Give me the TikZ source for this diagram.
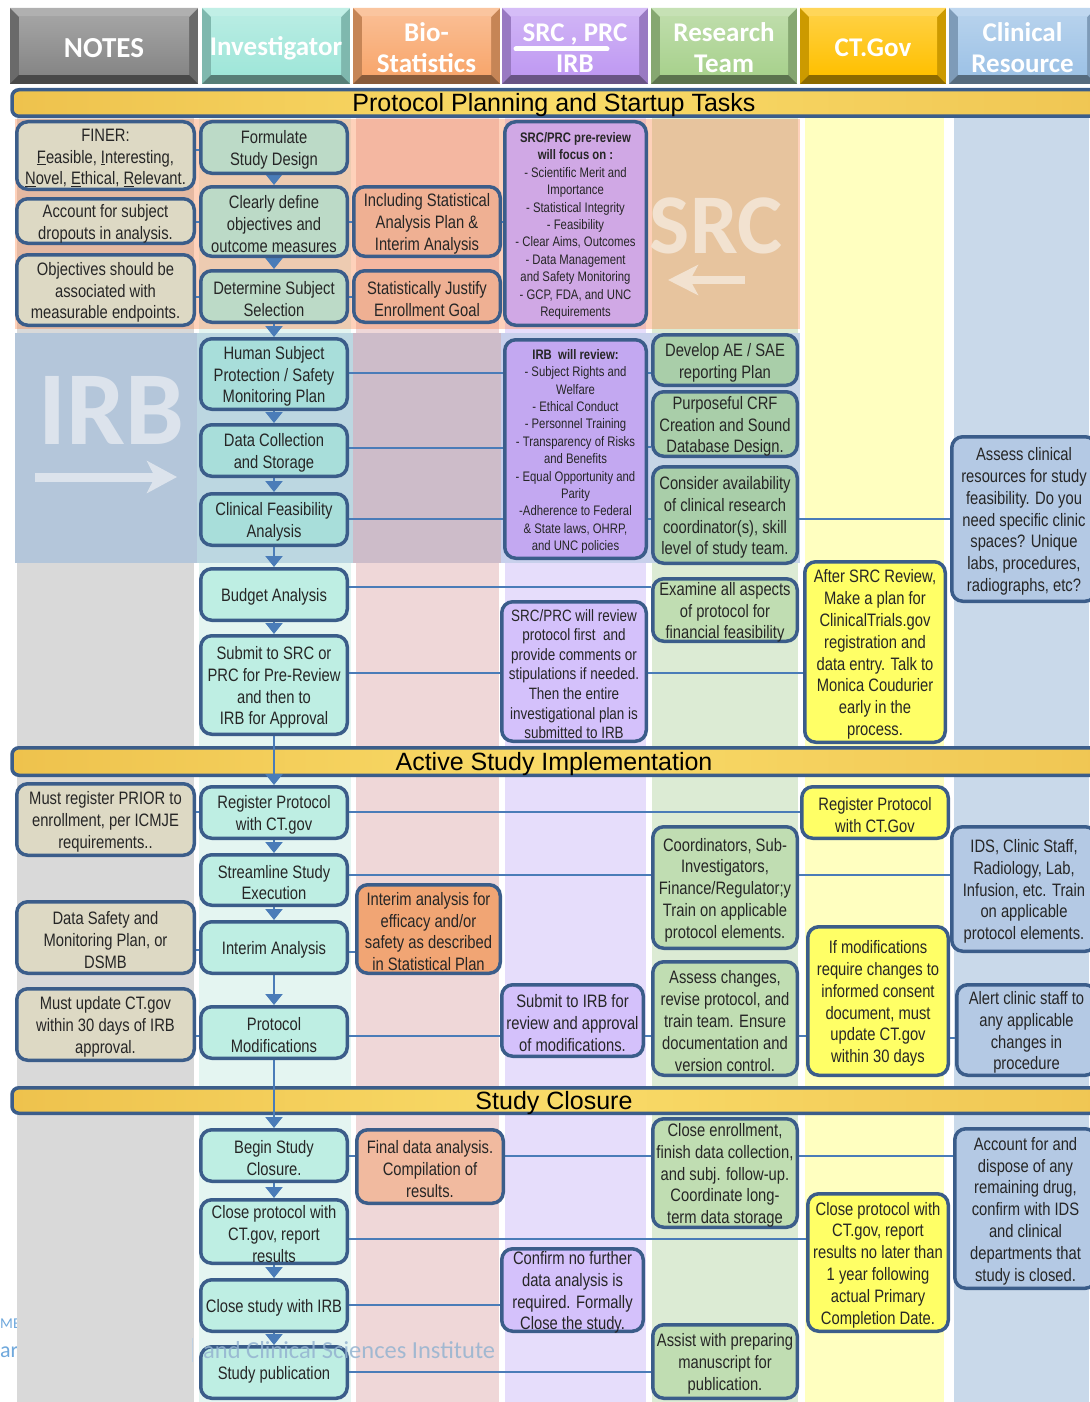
\documentclass[tikz,border=0pt]{standalone}
\usepackage{fontspec}
\setmainfont{Liberation Sans}
\newfontfamily\nar{Liberation Sans}[FakeStretch=0.82]
\newfontfamily\hdr{Carlito}
\usetikzlibrary{arrows.meta}
\pgfdeclarelayer{back}
\pgfdeclarelayer{conn}
\pgfsetlayers{back,conn,main}
\definecolor{bd}{HTML}{3B5D8A}
\definecolor{cn}{HTML}{4A7CB8}
\definecolor{tx}{HTML}{262626}
\definecolor{cgray}{HTML}{D9D9D9}
\definecolor{cinv}{HTML}{E4F5F1}
\definecolor{cbio}{HTML}{EFD7D8}
\definecolor{csrc}{HTML}{E6DDFB}
\definecolor{cres}{HTML}{DCEBD4}
\definecolor{cct}{HTML}{FFFFC0}
\definecolor{ccl}{HTML}{C9D9EA}
\definecolor{srcov}{HTML}{FE7E3C}
\definecolor{irbA}{HTML}{B4C6DA}
\definecolor{irbB}{HTML}{BCD7E1}
\definecolor{irbC}{HTML}{CDBCC9}
\definecolor{irbD}{HTML}{C8D0EC}
\definecolor{irbE}{HTML}{C6D5E6}
\definecolor{wmirb}{HTML}{DCE3EC}
\definecolor{wmsrc}{HTML}{F2E2D0}
\definecolor{barL}{HTML}{EEC24D}
\definecolor{barM}{HTML}{F9DB68}
\definecolor{barR}{HTML}{F0C653}
\definecolor{logo}{HTML}{94B3D0}
\definecolor{logob}{HTML}{6FA8DC}
\definecolor{nb}{HTML}{DDD9C4}
\definecolor{ia}{HTML}{BCDAC7}
\definecolor{ib}{HTML}{A8DEDA}
\definecolor{ic}{HTML}{BEEEE3}
\definecolor{ba}{HTML}{EFB093}
\definecolor{bb}{HTML}{F1A574}
\definecolor{bc}{HTML}{F1BA9F}
\definecolor{sa}{HTML}{D0A8E5}
\definecolor{sb}{HTML}{C3A8F1}
\definecolor{sc}{HTML}{D4C1FB}
\definecolor{ra}{HTML}{A9CEA9}
\definecolor{rb}{HTML}{C0DDB2}
\definecolor{cy}{HTML}{FFFF66}
\definecolor{ka}{HTML}{B4C9E4}
\definecolor{hnotes}{HTML}{858585}
\definecolor{hinv}{HTML}{9FE6D9}
\definecolor{hbio}{HTML}{F8A66C}
\definecolor{hsrc}{HTML}{BF99F2}
\definecolor{hres}{HTML}{A8D18D}
\definecolor{hct}{HTML}{FFC000}
\definecolor{hcl}{HTML}{9DC2E6}
\tikzset{
 box/.style={draw=bd,line width=3.5pt,rounded corners=11pt,inner sep=0pt},
 boxtext/.style={align=center,inner sep=0pt,text=tx,font=\nar\fontsize{18}{21.8}\selectfont},
 conn/.style={draw=cn,line width=2.2pt},
 arr/.style={draw=cn,line width=2.2pt,-{Triangle[width=17pt,length=11pt]}},
 hdt/.style={text=white,align=center,inner sep=0pt,font=\hdr\bfseries\fontsize{27}{31}\selectfont},
 secbar/.style={draw=bd,line width=3.5pt,rounded corners=7pt,left color=barL,right color=barR,middle color=barM,inner sep=0pt},
 bartext/.style={inner sep=0pt,font=\fontsize{25}{28}\selectfont,text=black},
 fsmall/.style={font=\nar\fontsize{13.8}{17.4}\selectfont},
 fmid/.style={font=\nar\fontsize{16.4}{19.6}\selectfont},
}
\newcommand\bxn[8]{%
 \pgfmathsetmacro\bxw{#4-#2-3.5}\pgfmathsetmacro\bxh{#5-#3-3.5}%
 \pgfmathsetmacro\bxcx{(#2+#4)/2}\pgfmathsetmacro\bxcy{(#3+#5)/2}%
 \pgfmathsetmacro\bxty{(#3+#5)/2+2.5}%
 \node[box,fill=#6,minimum width=\bxw pt,minimum height=\bxh pt] (#1) at (\bxcx,\bxcy) {};
 \node[boxtext,#7] (#1t) at (\bxcx,\bxty) {#8};}
\newcommand\hdtile[6]{%
 \fill[#4!80!black] (#2,8) rectangle (#3,84);
 \fill[#4!65!white] (#2,8) -- (#3,8) -- ({#3-9},17) -- ({#2+9},17) -- cycle;
 \fill[#4!55!black] (#2,84) -- (#3,84) -- ({#3-9},75) -- ({#2+9},75) -- cycle;
 \fill[top color=#4!75!white,bottom color=#4] ({#2+9},17) rectangle ({#3-9},75);
 \node[hdt,#5] (#1) at ({(#2+#3)/2},48) {#6};}
\begin{document}
\begin{tikzpicture}[x=1pt,y=-1pt]
\useasboundingbox (0,0) rectangle (1089,1402);
\begin{pgfonlayer}{back}
\fill[white] (0,0) rectangle (1089,1402);
\node[anchor=base west,inner sep=0,text=logob,font=\hdr\fontsize{15}{15}\selectfont] (lgA) at (0,1328) {ME};
\node[anchor=base west,inner sep=0,text=logob,font=\hdr\fontsize{22}{22}\selectfont] (lgB) at (0,1357) {arc};
\fill[cgray] (17,118) rectangle (194,1402);
\fill[cinv] (199,118) rectangle (351,1402);
\fill[cbio] (356,118) rectangle (499,1402);
\fill[csrc] (505,118) rectangle (646,1402);
\fill[cres] (652,118) rectangle (798,1402);
\fill[cct] (805,118) rectangle (944,1402);
\fill[ccl] (954,118) rectangle (1089,1402);
\fill[srcov,opacity=.35] (15,119) rectangle (800,329);
\fill[irbA] (15,333) rectangle (197,563);
\fill[irbB] (197,333) rectangle (353,563);
\fill[irbC] (353,333) rectangle (501,563);
\fill[irbD] (501,333) rectangle (650,563);
\fill[irbE] (650,333) rectangle (800,563);
\node[inner sep=0,text=wmirb,font=\hdr\bfseries\fontsize{105}{105}\selectfont] (wmI) at (111,410) {IRB};
\draw[wmirb,line width=9pt,-{Stealth[length=30pt,width=32pt,inset=8pt]}] (35,477) -- (177,477);
\node[inner sep=0,text=wmsrc,font=\hdr\bfseries\fontsize{85}{85}\selectfont] (wmS) at (716,226) {SRC};
\draw[wmsrc,line width=8pt,-{Stealth[length=30pt,width=30pt,inset=8pt]}] (745,280) -- (668,280);
\node[secbar,minimum width=1088pt,minimum height=26.5pt] (bar1) at (556,103) {};
\node[bartext] (bar1t) at (554,105.5) {Protocol Planning and Startup Tasks};
\node[secbar,minimum width=1088pt,minimum height=27.5pt] (bar2) at (556,761.5) {};
\node[bartext] (bar2t) at (554,764.5) {Active Study Implementation};
\node[secbar,minimum width=1088pt,minimum height=25.5pt] (bar3) at (556,1100.5) {};
\node[bartext] (bar3t) at (554,1103.5) {Study Closure};
\end{pgfonlayer}
% header
\hdtile{h1}{10}{198}{hnotes}{font=\hdr\bfseries\fontsize{29}{31}\selectfont}{NOTES}
\hdtile{h2}{202}{350}{hinv}{}{Investigator}
\hdtile{h3}{353}{500}{hbio}{}{Bio-\\Statistics}
\hdtile{h4}{502}{648}{hsrc}{}{SRC , PRC\\IRB}
\draw[white,line width=5pt,line cap=round] (516,49) -- (607,49);
\hdtile{h5}{651}{797}{hres}{}{Research\\Team}
\hdtile{h6}{800}{946}{hct}{}{CT.Gov}
\hdtile{h7}{949}{1096}{hcl}{}{Clinical\\Resource}
% notes
\bxn{n1}{15}{120}{196}{191}{nb}{}{FINER:\\\underline{F}easible, \underline{I}nteresting,\\\underline{N}ovel, \underline{E}thical, \underline{R}elevant.}
\bxn{n2}{15}{197}{196}{245}{nb}{}{Account for subject\\dropouts in analysis.}
\bxn{n3}{15}{253}{196}{327}{nb}{}{Objectives should be\\associated with\\measurable endpoints.}
\bxn{n4}{15}{782}{196}{857}{nb}{}{Must register PRIOR to\\enrollment, per ICMJE\\requirements..}
\bxn{n5}{15}{900}{196}{975}{nb}{}{Data Safety and\\Monitoring Plan, or\\DSMB}
\bxn{n6}{15}{987}{196}{1062}{nb}{}{Must update CT.gov\\within 30 days of IRB\\approval.}
% investigator
\bxn{i1}{199}{120}{349}{175}{ia}{}{Formulate\\Study Design}
\bxn{i2}{199}{185}{349}{258}{ia}{}{Clearly define\\objectives and\\outcome measures}
\bxn{i3}{199}{269}{349}{324}{ia}{}{Determine Subject\\Selection}
\bxn{i4}{199}{337}{349}{411}{ib}{}{Human Subject\\Protection / Safety\\Monitoring Plan}
\bxn{i5}{199}{423}{349}{478}{ib}{}{Data Collection\\and Storage}
\bxn{i6}{199}{492}{349}{547}{ib}{}{Clinical Feasibility\\Analysis}
\bxn{i7}{199}{567}{349}{622}{ic}{}{Budget Analysis}
\bxn{i8}{199}{634}{349}{736}{ic}{}{Submit to SRC or\\PRC for Pre-Review\\and then to\\IRB for Approval}
\bxn{i9}{199}{785}{349}{840}{ic}{}{Register Protocol\\with CT.gov}
\bxn{i10}{199}{853}{349}{907}{ic}{}{Streamline Study\\Execution}
\bxn{i11}{199}{920}{349}{975}{ic}{}{Interim Analysis}
\bxn{i12}{199}{1005}{349}{1060}{ic}{}{Protocol\\Modifications}
\bxn{i13}{199}{1128}{349}{1183}{ic}{}{Begin Study\\Closure.}
\bxn{i14}{199}{1198}{349}{1265}{ic}{}{Close protocol with\\CT.gov, report\\results}
\bxn{i15}{199}{1278}{349}{1333}{ic}{}{Close study with IRB}
\bxn{i16}{199}{1345}{349}{1400}{ic}{}{Study publication}
% biostat
\bxn{b1}{352}{185}{502}{258}{ba}{}{Including Statistical\\Analysis Plan \&\\Interim Analysis}
\bxn{b2}{352}{269}{502}{324}{ba}{}{Statistically Justify\\Enrollment Goal}
\bxn{b3}{355}{883}{502}{975}{bb}{}{Interim analysis for\\efficacy and/or\\safety as described\\in Statistical Plan}
\bxn{b4}{355}{1128}{505}{1205}{bc}{}{Final data analysis.\\Compilation of\\results.}
% SRC / IRB
\bxn{s1}{503}{120}{648}{327}{sa}{fsmall}{\textbf{SRC/PRC pre-review}\\\textbf{will focus on :}\\- Scientific Merit and\\Importance\\- Statistical Integrity\\- Feasibility\\- Clear Aims, Outcomes\\- Data Management\\and Safety Monitoring\\- GCP, FDA, and UNC\\Requirements}
\bxn{s2}{503}{338}{648}{560}{sb}{fsmall}{\textbf{IRB\ \ will review:}\\- Subject Rights and\\Welfare\\- Ethical Conduct\\- Personnel Training\\- Transparency of Risks\\and Benefits\\- Equal Opportunity and\\Parity\\-Adherence to Federal\\\& State laws, OHRP,\\and UNC policies}
\bxn{s3}{500}{600}{648}{743}{sc}{fmid}{SRC/PRC will review\\protocol first\ \ and\\provide comments or\\stipulations if needed.\\Then the entire\\investigational plan is\\submitted to IRB}
\bxn{s4}{500}{983}{645}{1058}{sc}{}{Submit to IRB for\\review and approval\\of modifications.}
\bxn{s5}{500}{1247}{645}{1333}{sc}{}{Confirm no further\\data analysis is\\required. Formally\\Close the study.}
% research team
\bxn{r1}{651}{333}{799}{387}{ra}{}{Develop AE / SAE\\reporting Plan}
\bxn{r2}{651}{390}{799}{458}{ra}{}{Purposeful CRF\\Creation and Sound\\Database Design.}
\bxn{r3}{651}{465}{799}{565}{ra}{}{Consider availability\\of clinical research\\coordinator(s), skill\\level of study team.}
\bxn{r4}{651}{577}{799}{643}{rb}{}{Examine all aspects\\of protocol for\\financial feasibility}
\bxn{r5}{651}{825}{799}{950}{rb}{}{Coordinators, Sub-\\Investigators,\\Finance/Regulator;y\\Train on applicable\\protocol elements.}
\bxn{r6}{651}{960}{799}{1077}{rb}{}{Assess changes,\\revise protocol, and\\train team. Ensure\\documentation and\\version control.}
\bxn{r7}{651}{1117}{799}{1229}{rb}{}{Close enrollment,\\finish data collection,\\and subj. follow-up.\\Coordinate long-\\term data storage}
\bxn{r8}{651}{1323}{799}{1400}{rb}{}{Assist with preparing\\manuscript for\\publication.}
% CT.gov
\bxn{c1}{803}{560}{947}{744}{cy}{}{After SRC Review,\\Make a plan for\\ClinicalTrials.gov\\registration and\\data entry. Talk to\\Monica Coudurier\\early in the\\process.}
\bxn{c2}{800}{785}{950}{840}{cy}{}{Register Protocol\\with CT.Gov}
\bxn{c3}{806}{925}{950}{1077}{cy}{}{If modifications\\require changes to\\informed consent\\document, must\\update CT.gov\\within 30 days}
\bxn{c4}{806}{1192}{950}{1333}{cy}{}{Close protocol with\\CT.gov, report\\results no later than\\1 year following\\actual Primary\\Completion Date.}
% clinical resource
\bxn{k1}{950}{435}{1098}{603}{ka}{}{Assess clinical\\resources for study\\feasibility. Do you\\need specific clinic\\spaces? Unique\\labs, procedures,\\radiographs, etc?}
\bxn{k2}{950}{825}{1098}{953}{ka}{}{IDS, Clinic Staff,\\Radiology, Lab,\\Infusion, etc. Train\\on applicable\\protocol elements.}
\bxn{k3}{955}{983}{1098}{1077}{ka}{}{Alert clinic staff to\\any applicable\\changes in\\procedure}
\bxn{k4}{953}{1127}{1098}{1290}{ka}{}{Account for and\\dispose of any\\remaining drug,\\confirm with IDS\\and clinical\\departments that\\study is closed.}
% faint logo remnant
\draw[logo!60!white,line width=1pt] (192,1338) -- (192,1362);
\node[anchor=base west,inner sep=0,text=logo,opacity=.85,font=\hdr\fontsize{24.5}{26}\selectfont] (lgC) at (203,1358) {and Clinical Sciences Institute};
\begin{pgfonlayer}{conn}
\draw[conn] (n1.east |- 0,150) -- (i1.west |- 0,150);
\draw[conn] (n2.east |- 0,222) -- (i2.west |- 0,222);
\draw[conn] (i2.east |- 0,222) -- (b1.west |- 0,222);
\draw[conn] (b1.east |- 0,222) -- (s1.west |- 0,222);
\draw[conn] (n3.east |- 0,297) -- (i3.west |- 0,297);
\draw[conn] (i3.east |- 0,297) -- (b2.west |- 0,297);
\draw[conn] (i4.east |- 0,373) -- (s2.west |- 0,373);
\draw[conn] (s2.east |- 0,373) -- (r1.west |- 0,373);
\draw[conn] (i5.east |- 0,448) -- (s2.west |- 0,448);
\draw[conn] (s2.east |- 0,447) -- (r2.west |- 0,447);
\draw[conn] (i6.east |- 0,519) -- (s2.west |- 0,519);
\draw[conn] (s2.east |- 0,519) -- (r3.west |- 0,519);
\draw[conn] (r3.east |- 0,519) -- (k1.west |- 0,519);
\draw[conn] (i7.east |- 0,587) -- (r4.west |- 0,587);
\draw[conn] (i8.east |- 0,673) -- (s3.west |- 0,673);
\draw[conn] (s3.east |- 0,673) -- (c1.west |- 0,673);
\draw[conn] (n4.east |- 0,812) -- (i9.west |- 0,812);
\draw[conn] (i9.east |- 0,812) -- (c2.west |- 0,812);
\draw[conn] (i10.east |- 0,875) -- (r5.west |- 0,875);
\draw[conn] (r5.east |- 0,875) -- (k2.west |- 0,875);
\draw[conn] (n5.east |- 0,950) -- (i11.west |- 0,950);
\draw[conn] (i11.east |- 0,952) -- (b3.west |- 0,952);
\draw[conn] (n6.east |- 0,1036) -- (i12.west |- 0,1036);
\draw[conn] (i12.east |- 0,1036) -- (s4.west |- 0,1036);
\draw[conn] (s4.east |- 0,1036) -- (r6.west |- 0,1036);
\draw[conn] (r6.east |- 0,1036) -- (c3.west |- 0,1036);
\draw[conn] (c3.east |- 0,1038) -- (k3.west |- 0,1038);
\draw[conn] (i13.east |- 0,1156) -- (b4.west |- 0,1156);
\draw[conn] (b4.east |- 0,1156) -- (r7.west |- 0,1156);
\draw[conn] (r7.east |- 0,1156) -- (k4.west |- 0,1156);
\draw[conn] (i14.east |- 0,1239) -- (c4.west |- 0,1239);
\draw[conn] (i15.east |- 0,1305) -- (s5.west |- 0,1305);
\draw[conn] (i16.east |- 0,1372) -- (r8.west |- 0,1372);
\draw[arr] (i1.south) -- (i2.north);
\draw[arr] (i2.south) -- (i3.north);
\draw[arr] (i3.south) -- (i4.north);
\draw[arr] (i4.south) -- (i5.north);
\draw[arr] (i5.south) -- (i6.north);
\draw[arr] (i6.south) -- (i7.north);
\draw[arr] (i7.south) -- (i8.north);
\draw[arr] (i8.south) -- (i9.north);
\draw[arr] (i9.south) -- (i10.north);
\draw[arr] (i10.south) -- (i11.north);
\draw[arr] (i11.south) -- (i12.north);
\draw[arr] (i12.south) -- (i13.north);
\draw[arr] (i13.south) -- (i14.north);
\draw[arr] (i14.south) -- (i15.north);
\draw[arr] (i15.south) -- (i16.north);
\end{pgfonlayer}
\end{tikzpicture}
\end{document}
